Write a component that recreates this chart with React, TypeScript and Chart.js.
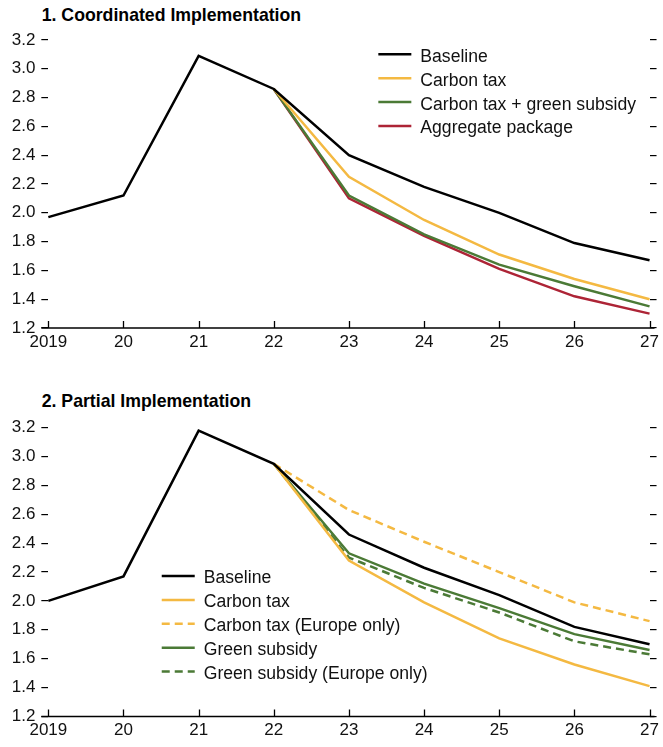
import React, { useEffect, useRef } from 'react';
import { Chart, registerables } from 'chart.js';

Chart.register(...registerables);

// ---------- data ----------
const years = ['2019', '20', '21', '22', '23', '24', '25', '26', '27'];
const yTickValues = [1.2, 1.4, 1.6, 1.8, 2.0, 2.2, 2.4, 2.6, 2.8, 3.0, 3.2];

// Panel 1: Coordinated Implementation
const baseline1 = [1.97, 2.12, 3.09, 2.86, 2.40, 2.18, 2.00, 1.79, 1.67];
const carbonTax1 = [null, null, null, 2.86, 2.25, 1.95, 1.71, 1.54, 1.40];
const carbonTaxGreen1 = [null, null, null, 2.86, 2.12, 1.85, 1.64, 1.49, 1.35];
const aggregate1 = [null, null, null, 2.86, 2.10, 1.84, 1.61, 1.42, 1.30];

// Panel 2: Partial Implementation
const baseline2 = [2.00, 2.17, 3.18, 2.95, 2.46, 2.23, 2.04, 1.82, 1.70];
const carbonTax2 = [null, null, null, 2.95, 2.28, 1.99, 1.74, 1.56, 1.41];
const carbonTaxEurope2 = [null, null, null, 2.95, 2.63, 2.41, 2.20, 1.99, 1.86];
const greenSubsidy2 = [null, null, null, 2.95, 2.33, 2.12, 1.95, 1.77, 1.66];
const greenSubsidyEurope2 = [null, null, null, 2.95, 2.30, 2.09, 1.92, 1.72, 1.63];

const title1 = '1. Coordinated Implementation';
const title2 = '2. Partial Implementation';

// ---------- style ----------
const FONT = "'Liberation Sans', Arial, Helvetica, sans-serif";
const BLACK = '#000000';
const YELLOW = '#F4B942';
const GREEN = '#4B7A36';
const RED = '#AD2436';
const LW = 2.5;
const DASH = [8, 5];

function ds(label: string, data: (number | null)[], color: string, dashed = false) {
  return {
    label,
    data,
    borderColor: color,
    backgroundColor: color,
    borderWidth: LW,
    borderDash: dashed ? DASH : [],
    pointRadius: 0,
    pointHoverRadius: 0,
    tension: 0,
    fill: false,
  };
}

const decoPlugin = {
  id: 'deco',
  afterDatasetsDraw(chart: any, _args: any, opts: any) {
    const { ctx, chartArea, scales } = chart;
    const xs = scales.x;
    const yb = chartArea.bottom;
    ctx.save();
    // x axis line
    ctx.strokeStyle = BLACK;
    ctx.lineWidth = 1.5;
    ctx.setLineDash([]);
    ctx.beginPath();
    ctx.moveTo(chartArea.left - 7, yb);
    ctx.lineTo(chartArea.right + 5, yb);
    ctx.stroke();
    // inward x ticks
    ctx.lineWidth = 1.3;
    ctx.beginPath();
    xs.ticks.forEach((_t: any, i: number) => {
      const px = Math.round(xs.getPixelForTick(i)) + 0.5;
      ctx.moveTo(px, yb);
      ctx.lineTo(px, yb - 7);
    });
    ctx.stroke();

    // legend
    const lx = chartArea.left + opts.dx;
    let ly = chartArea.top + opts.dy;
    ctx.font = `17.6px ${FONT}`;
    ctx.textBaseline = 'alphabetic';
    ctx.textAlign = 'left';
    chart.data.datasets.forEach((d: any) => {
      ctx.strokeStyle = d.borderColor;
      ctx.lineWidth = LW;
      ctx.setLineDash(d.borderDash || []);
      ctx.beginPath();
      ctx.moveTo(lx, ly);
      ctx.lineTo(lx + 33, ly);
      ctx.stroke();
      ctx.setLineDash([]);
      ctx.fillStyle = '#111';
      ctx.fillText(d.label, lx + 42, ly + 7.4);
      ly += opts.rowH;
    });
    ctx.restore();
  },
};

function yScale(position: 'left' | 'right') {
  return {
    type: 'linear',
    position,
    min: 1.2,
    max: 3.2,
    afterBuildTicks: (scale: any) => {
      scale.ticks = yTickValues.map((v) => ({ value: v }));
    },
    grid: {
      display: true,
      drawOnChartArea: false,
      drawTicks: true,
      tickLength: 7,
      color: BLACK,
      lineWidth: 1.2,
    },
    border: { display: false },
    ticks: {
      display: position === 'left',
      padding: 6,
      color: '#111',
      font: { family: FONT, size: 17 },
      callback: (v: any) => Number(v).toFixed(1),
    },
  };
}

function Panel(props: {
  top: number;
  height: number;
  datasets: any[];
  legend: { dx: number; dy: number; rowH: number };
  padding: { top: number; bottom: number; left: number; right: number };
}) {
  const ref = useRef<HTMLCanvasElement | null>(null);
  useEffect(() => {
    if (!ref.current) return;
    const chart = new Chart(ref.current, {
      type: 'line',
      data: { labels: years, datasets: props.datasets },
      options: {
        responsive: false,
        animation: false,
        devicePixelRatio: 1,
        layout: { padding: props.padding },
        plugins: {
          legend: { display: false },
          tooltip: { enabled: false },
          title: { display: false },
          deco: props.legend,
        } as any,
        scales: {
          x: {
            type: 'category',
            offset: false,
            grid: { display: false, drawTicks: false },
            border: { display: false },
            ticks: {
              autoSkip: false,
              maxRotation: 0,
              padding: 4,
              color: '#111',
              font: { family: FONT, size: 17 },
            },
          },
          y: yScale('left'),
          y2: yScale('right'),
        } as any,
      },
      plugins: [decoPlugin],
    } as any);
    return () => chart.destroy();
  }, []);
  return (
    <canvas
      ref={ref}
      width={663}
      height={props.height}
      style={{ position: 'absolute', left: 0, top: props.top, width: 663, height: props.height }}
    />
  );
}

const titleStyle = (top: number): React.CSSProperties => ({
  position: 'absolute',
  left: 41.7,
  top,
  margin: 0,
  fontFamily: FONT,
  fontWeight: 'bold',
  fontSize: '17.7px',
  lineHeight: '20px',
  color: '#000',
  whiteSpace: 'nowrap',
});

export default function App() {
  const ds1 = [
    ds('Baseline', baseline1, BLACK),
    ds('Carbon tax', carbonTax1, YELLOW),
    ds('Carbon tax + green subsidy', carbonTaxGreen1, GREEN),
    ds('Aggregate package', aggregate1, RED),
  ];
  const ds2 = [
    ds('Baseline', baseline2, BLACK),
    ds('Carbon tax', carbonTax2, YELLOW),
    ds('Carbon tax (Europe only)', carbonTaxEurope2, YELLOW, true),
    ds('Green subsidy', greenSubsidy2, GREEN),
    ds('Green subsidy (Europe only)', greenSubsidyEurope2, GREEN, true),
  ];
  return (
    <div style={{ position: 'absolute', left: 0, top: 0, width: 663, height: 747, background: '#fff', overflow: 'hidden' }}>
      <div style={titleStyle(4.6)}>{title1}</div>
      <Panel
        top={0}
        height={361}
        datasets={ds1}
        legend={{ dx: 330, dy: 14.3, rowH: 23.9 }}
        padding={{ top: 40, bottom: 4.6, left: 5.7, right: 3.3 }}
      />
      <div style={titleStyle(391.4)}>{title2}</div>
      <Panel
        top={370}
        height={377}
        datasets={ds2}
        legend={{ dx: 113.4, dy: 148.3, rowH: 23.9 }}
        padding={{ top: 57.7, bottom: 2.2, left: 5.7, right: 3.3 }}
      />
    </div>
  );
}
